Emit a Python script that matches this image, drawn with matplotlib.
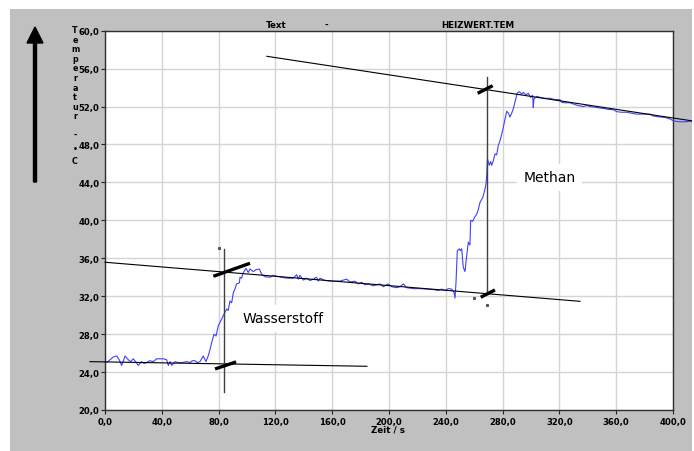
import matplotlib
matplotlib.use('Agg')
import matplotlib.pyplot as plt
from matplotlib.patches import Rectangle, FancyArrow

zeit = [0, 2, 5.9, 8.2, 10, 11.7, 13, 14.1, 16.4, 18, 19.9, 21.5, 23.5, 25.8, 27.5,
        29.3, 31.5, 34, 36.4, 38.5, 41.1, 43.4, 44.6, 45.8, 47, 49.3, 51.5, 54, 57.5,
        59.9, 61.5, 63.4, 65, 66.9, 69.2, 71.1, 72.8, 74, 75.1, 76.8, 78.2, 79.8, 82.2,
        83.3, 85.7, 86.8, 88, 89.2, 90.4, 91.5, 92.7, 94.6, 95.1, 96.2, 97.4, 99.3,
        100.9, 102.1, 104.4, 106.3, 108.7, 110.4, 112.7, 116.2, 118.5, 120.9, 124.4,
        127.9, 132.6, 135, 136.2, 137.3, 139.7, 142, 144.4, 146.7, 149, 150.2, 151.4,
        154.9, 159.6, 165.5, 170.2, 172.5, 176.1, 178.4, 180.8, 183.1, 185.4, 189,
        193.7, 196, 199.5, 201.9, 205.4, 207.7, 210.1, 212.4, 217.1, 221.8, 226.5,
        231.2, 234.7, 237.1, 239.4, 241.8, 244.2, 245.8, 246.5, 247.2, 248.1, 249.5,
        250.3, 251.2, 252.3, 253.5, 254.7, 255.9, 257, 257.5, 258.9, 260.2, 261.8, 263,
        264.1, 266, 267.6, 268.3, 268.8, 269.3, 270.6, 271.6, 272.3, 273.5, 274.6,
        275.8, 277, 278.2, 279.4, 280.5, 281.7, 282.9, 284.1, 285.2, 286.4, 287.6,
        288.7, 289.4, 290.3, 291.8, 293.4, 294.6, 296.5, 298.1, 299.8, 301.2, 301.6,
        302.1, 304, 306.3, 309.9, 313.4, 316.9, 320.4, 321.6, 323.9, 327.5, 329.8,
        333.3, 336.8, 339.1, 341.5, 346.2, 351, 354.5, 358, 360.4, 363.9, 367.4, 370.9,
        374.4, 379, 383.8, 386.1, 390.8, 394.4, 397.9, 400.2, 403.7, 409.6, 413.1]
temp = [25.0, 25.1, 25.6, 25.7, 25.3, 24.7, 25.2, 25.7, 25.3, 25.1, 25.4, 25.1, 24.7,
        25.1, 24.9, 25.0, 25.2, 25.1, 25.4, 25.4, 25.4, 25.3, 24.7, 25.1, 24.7, 25.1,
        25.0, 25.0, 25.1, 25.0, 25.2, 25.2, 25.0, 25.1, 25.7, 25.1, 25.75, 26.4, 27.1,
        28.0, 27.8, 28.9, 29.6, 29.95, 30.65, 30.5, 31.5, 31.3, 32.4, 32.76, 33.3, 33.4,
        34.0, 33.9, 34.5, 34.94, 34.5, 34.87, 34.6, 34.8, 34.87, 34.3, 34.05, 34.0,
        34.2, 34.1, 34.0, 33.9, 33.9, 34.27, 33.8, 34.2, 33.7, 33.9, 33.65, 33.8, 34.0,
        33.6, 33.9, 33.66, 33.58, 33.6, 33.8, 33.5, 33.58, 33.3, 33.46, 33.2, 33.3,
        33.1, 33.3, 33.0, 33.3, 33.0, 32.9, 33.0, 33.3, 32.9, 32.8, 32.8, 32.75, 32.7,
        32.6, 32.75, 32.6, 32.8, 32.75, 32.4, 31.8, 33.5, 36.8, 37.0, 36.8, 37.0, 35.05,
        34.6, 36.27, 37.7, 37.4, 40.0, 39.9, 40.3, 40.67, 41.2, 41.9, 42.4, 43.3, 43.83,
        44.7, 46.5, 45.8, 46.2, 45.8, 46.3, 47.0, 46.9, 47.9, 48.4, 49.1, 49.8, 50.7,
        51.5, 51.3, 50.9, 51.3, 51.8, 52.5, 52.9, 53.43, 53.57, 53.3, 53.5, 53.22, 53.4,
        52.97, 53.2, 51.9, 52.8, 53.08, 52.97, 52.87, 52.87, 52.73, 52.73, 52.45, 52.4,
        52.4, 52.27, 52.1, 52.0, 52.1, 52.0, 51.9, 51.8, 51.7, 51.67, 51.46, 51.4, 51.4,
        51.3, 51.2, 51.2, 51.2, 51.0, 50.9, 50.85, 50.69, 50.5, 50.4, 50.4, 50.47]

# Ausgleichsgeraden (Anfang, Ende)
gerade_methan_oben = ([114, 413], [57.3, 50.5])
gerade_mitte = ([0, 334.5], [35.58, 31.46])
gerade_wasser_unten = ([-10.6, 184.5], [25.1, 24.61])

# senkrechte Linien
senkrecht_wasser = ([83.8, 83.8], [36.98, 21.93])
senkrecht_methan = ([268.8, 268.8], [55.1, 32.3])

# Schnittpunkt-Markierungen
markierungen = [([76.3, 102.1], [34.10, 35.47]),
                ([77.5, 92.3], [24.33, 25.07]),
                ([262.4, 273.0], [53.40, 54.20]),
                ([264.6, 274.6], [31.89, 32.66])]

punkte_x = [80.5, 260, 268.8]
punkte_y = [37.09, 31.85, 31.07]

x_ticks = [0, 40, 80, 120, 160, 200, 240, 280, 320, 360, 400]
y_ticks = [20, 24, 28, 32, 36, 40, 44, 48, 52, 56, 60]

W, H = 694, 452
fig = plt.figure(figsize=(W / 100, H / 100), dpi=100)
fig.patch.set_facecolor('white')
fig.patches.append(Rectangle((10 / W, 0), 682 / W, 442 / H, transform=fig.transFigure,
                             facecolor='#c0c0c0', edgecolor='none', zorder=-5))

ax = fig.add_axes([105 / W, (H - 411) / H, 568 / W, 379.3 / H])
ax.set_facecolor('white')
ax.set_xlim(0, 400)
ax.set_ylim(20, 60)

tickfont = dict(family='DejaVu Sans', weight='bold', size=6.1)
ax.set_xticks(x_ticks)
ax.set_yticks(y_ticks)
ax.set_xticklabels([f'{v:.1f}'.replace('.', ',') for v in x_ticks], fontdict=tickfont)
ax.set_yticklabels([f'{v:.1f}'.replace('.', ',') for v in y_ticks], fontdict=tickfont)
ax.tick_params(direction='out', length=3, width=0.8, color='#202020', pad=1)
ax.tick_params(axis='x', pad=2)
for s in ax.spines.values():
    s.set_color('#303030')
    s.set_linewidth(1)
ax.grid(True, color='#d4d4d4', linewidth=1)
ax.set_axisbelow(True)

ax.plot(zeit, temp, color='#4040ff', linewidth=0.8, clip_on=False, zorder=3)

for gx, gy in [gerade_methan_oben, gerade_mitte, gerade_wasser_unten]:
    ax.plot(gx, gy, color='black', linewidth=0.8, clip_on=False, zorder=4)
for gx, gy in [senkrecht_wasser, senkrecht_methan]:
    ax.plot(gx, gy, color='#404040', linewidth=1, zorder=4)
for mx, my in markierungen:
    ax.plot(mx, my, color='black', linewidth=2.4, solid_capstyle='butt', zorder=5)
ax.plot(punkte_x, punkte_y, 's', color='#505050', markersize=1.2, zorder=5)

box = dict(boxstyle='square,pad=0.45', facecolor='white', edgecolor='none')
ax.text(125.6, 29.67, 'Wasserstoff', fontsize=10, ha='center', va='center', bbox=box, zorder=6)
ax.text(313.2, 44.54, 'Methan', fontsize=10, ha='center', va='center', bbox=box, zorder=6)

# Kopfzeile
kopf = dict(family='DejaVu Sans', weight='bold', size=6.3, ha='center', va='center')
fig.text(276.7 / W, (H - 25) / H, 'Text', **kopf)
fig.text(326 / W, (H - 25) / H, '-', **kopf)
fig.text(478.3 / W, (H - 25) / H, 'HEIZWERT.TEM', **kopf)
fig.text(388 / W, (H - 430) / H, 'Zeit / s', **kopf)

# senkrechte Achsenbeschriftung, Buchstabe fuer Buchstabe
senk = dict(family='DejaVu Sans', weight='bold', size=5.8, ha='center', va='center')
zeichen = list('Temperatur')
for i, c in enumerate(zeichen):
    fig.text(75 / W, (H - (30.5 + 9.6 * i)) / H, c, **senk)
fig.text(75 / W, (H - 135) / H, '-', **senk)
fig.text(75 / W, (H - 150) / H, '•', **senk)
fig.text(75 / W, (H - 162) / H, 'C', **senk)

# Pfeil
fig.patches.append(FancyArrow(0.35, (H - 183) / 100, 0, 1.55, width=0.03,
                              head_width=0.16, head_length=0.16, length_includes_head=True,
                              transform=fig.dpi_scale_trans, color='black', zorder=1))

fig.savefig('out.png', dpi=100)
